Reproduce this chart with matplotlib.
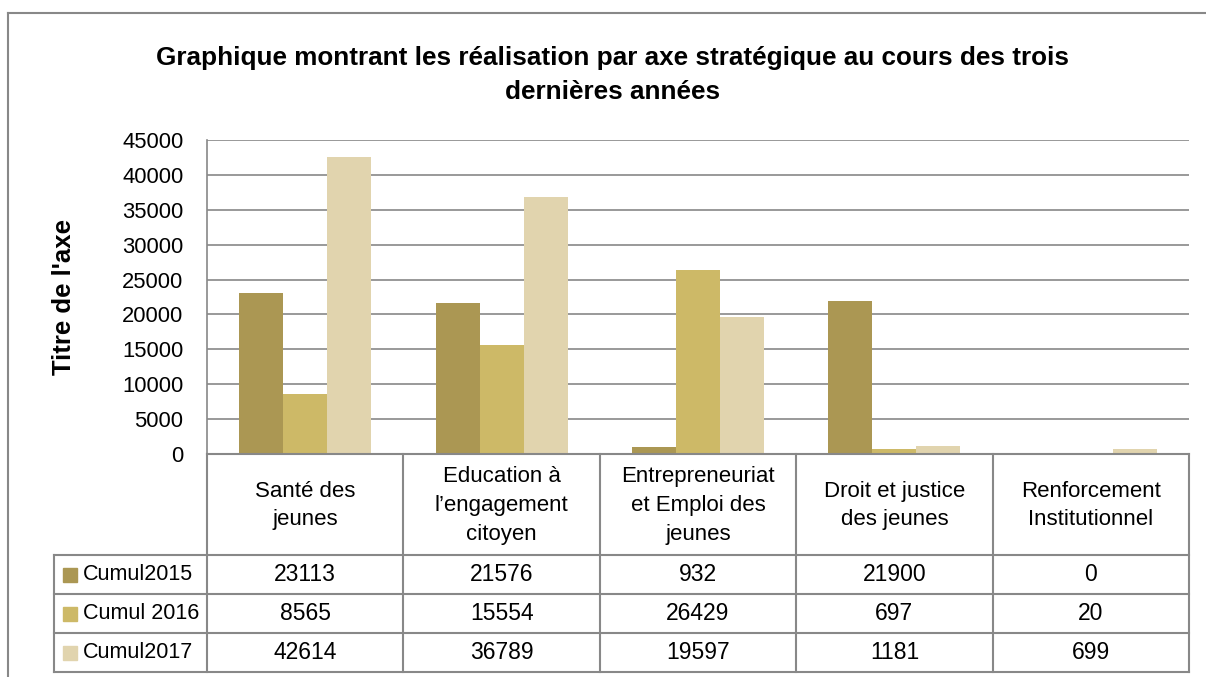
import matplotlib
matplotlib.use("Agg")
import matplotlib.pyplot as plt
from matplotlib.patches import Rectangle
from matplotlib.lines import Line2D
import numpy as np

categories = ["Santé des\njeunes", "Education à\nl\u2019engagement\ncitoyen",
              "Entrepreneuriat\net Emploi des\njeunes", "Droit et justice\ndes jeunes",
              "Renforcement\nInstitutionnel"]
series_names = ["Cumul2015", "Cumul 2016", "Cumul2017"]
cumul2015 = [23113, 21576, 932, 21900, 0]
cumul2016 = [8565, 15554, 26429, 697, 20]
cumul2017 = [42614, 36789, 19597, 1181, 699]
colors = ["#AB9753", "#CDB967", "#E1D4AE"]
yticks = [0, 5000, 10000, 15000, 20000, 25000, 30000, 35000, 40000, 45000]
title = "Graphique montrant les réalisation par axe stratégique au cours des trois\ndernières années"
ylabel = "Titre de l'axe"

W, H = 1206, 677
plt.rcParams['font.family'] = ['Liberation Sans', 'DejaVu Sans']
fig = plt.figure(figsize=(W / 100, H / 100), dpi=100)

def fx(x): return x / W
def fy(y): return 1 - y / H

gray = "#888888"
L, R, T, B = 207, 1189, 140, 454
ax = fig.add_axes([fx(L), fy(B), (R - L) / W, (B - T) / H])
series = [cumul2015, cumul2016, cumul2017]
n = len(categories)
x = np.arange(n)
bw = 0.224
for i, (vals, c) in enumerate(zip(series, colors)):
    ax.bar(x + (i - 1) * bw, vals, width=bw, color=c, zorder=3)
ax.set_xlim(-0.5, n - 0.5)
ax.set_ylim(0, 45000)
ax.set_yticks(yticks)
ax.set_yticklabels([str(v) for v in yticks], fontsize=15.8)
ax.tick_params(axis='y', length=0, pad=17)
ax.set_xticks([])
ax.grid(axis='y', color=gray, linewidth=1.2, zorder=0)
for s in ['top', 'right', 'bottom']:
    ax.spines[s].set_visible(False)
ax.spines['left'].set_color(gray)
ax.spines['left'].set_linewidth(1.2)
ax.set_ylabel(ylabel, fontsize=18.5, fontweight='bold')
ax.yaxis.set_label_coords(fx(76), fy((T + B) / 2), transform=fig.transFigure)

# outer chart border
fig.add_artist(Line2D([fx(8), fx(8)], [fy(13), fy(677)], color=gray, lw=1.5))
fig.add_artist(Line2D([fx(8), fx(1206)], [fy(13), fy(13)], color=gray, lw=1.5))

# title
fig.text(fx(613), fy(75), title, ha='center', va='center', fontsize=18.8,
         fontweight='bold', linespacing=1.5)

# data table
cols = [207, 403.4, 599.8, 796.2, 992.6, 1189]
hdr_top, hdr_bot = 454, 555
rows = [555, 594, 633, 672]
tl = 54
def hline(x0, x1, y):
    fig.add_artist(Line2D([fx(x0), fx(x1)], [fy(y), fy(y)], color=gray, lw=1.5))
def vline(x, y0, y1):
    fig.add_artist(Line2D([fx(x), fx(x)], [fy(y0), fy(y1)], color=gray, lw=1.5))

hline(cols[0], cols[-1], hdr_top)
for y in rows:
    hline(tl, cols[-1], y)
for c in cols:
    vline(c, hdr_top, rows[-1])
vline(tl, rows[0], rows[-1])

for i, cat in enumerate(categories):
    cx = (cols[i] + cols[i + 1]) / 2
    fig.text(fx(cx), fy((hdr_top + hdr_bot) / 2 + 1), cat, ha='center', va='center',
             fontsize=16, linespacing=1.48)

for r, (name, vals, c) in enumerate(zip(series_names, series, colors)):
    y0, y1 = rows[r], rows[r + 1]
    cy = (y0 + y1) / 2
    fig.add_artist(Rectangle((fx(63), fy(cy + 7)), 14 / W, 14 / H, color=c,
                             transform=fig.transFigure))
    fig.text(fx(83), fy(cy), name, ha='left', va='center', fontsize=15.5)
    for i, v in enumerate(vals):
        cx = (cols[i] + cols[i + 1]) / 2
        fig.text(fx(cx), fy(cy), str(v), ha='center', va='center', fontsize=16.5)

fig.savefig("out.png", dpi=100)
